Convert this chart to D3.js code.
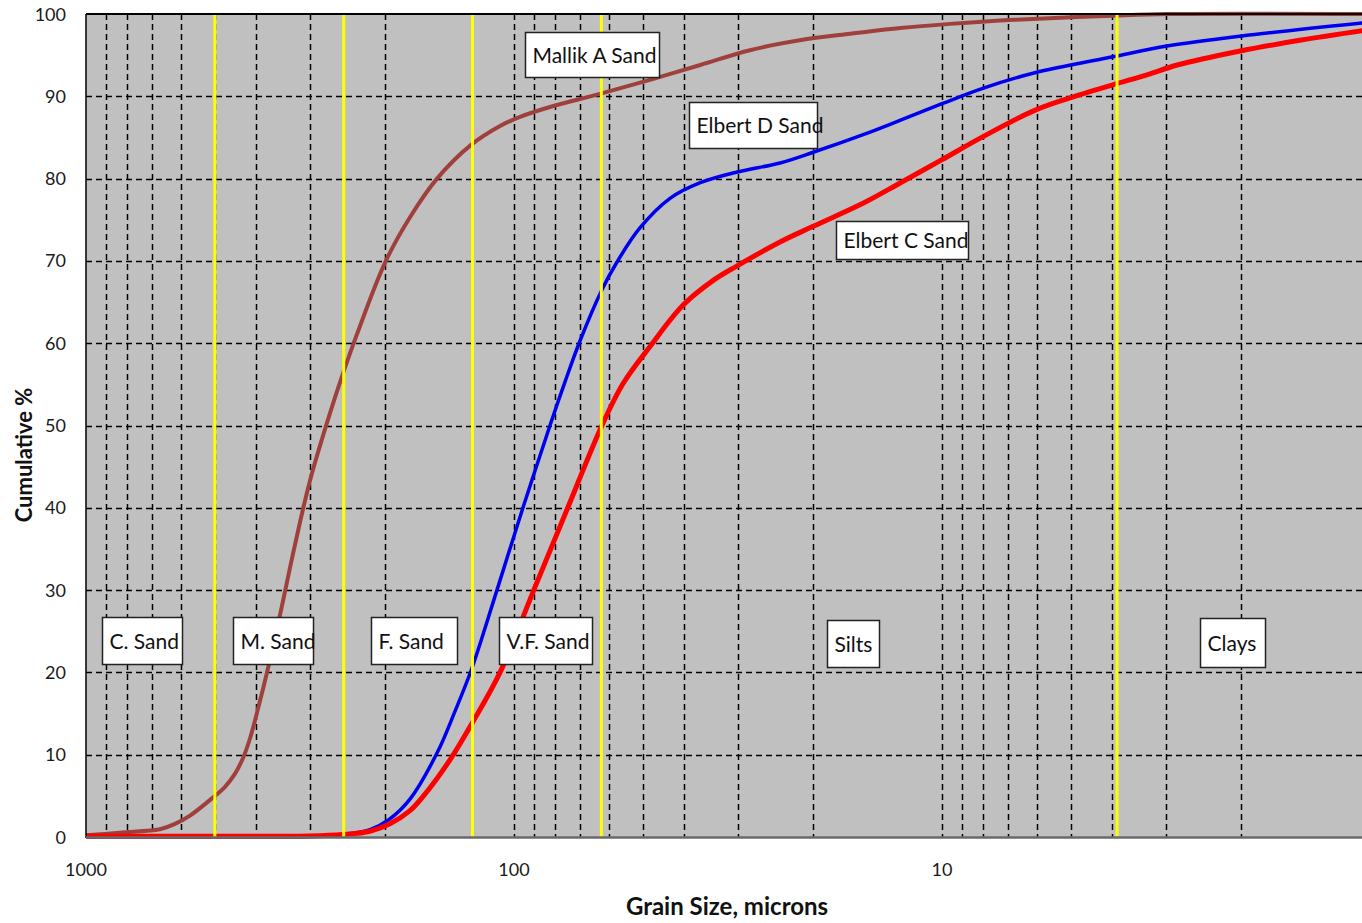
<!DOCTYPE html>
<html>
<head>
<meta charset="utf-8">
<script src="https://cdn.jsdelivr.net/npm/d3@7"></script>
<style>
  body { margin: 0; background: #fff; }
  svg { display: block; font-family: Lato, "Open Sans", sans-serif; }
</style>
</head>
<body>
<svg id="chart" width="1362" height="923"></svg>
<script>
// Cumulative grain-size curves, [size in microns, cumulative %].
const mallikA = [
    [1000, 0.2], [846, 0.5], [708.5, 0.8], [671.6, 0.95], [619.5, 1.6], [571.5, 2.6],
    [505, 4.8], [473.4, 6.1], [448.5, 7.7], [429.6, 9.6], [413.7, 12.0], [396.3, 15.6],
    [377.6, 20], [352.1, 27], [324.9, 35.5], [299.7, 43.3], [269.1, 51.5], [251, 56.3],
    [232.7, 61.1], [200.1, 69.8], [175, 75.3], [151.3, 80], [126, 84.1], [107.8, 86.4],
    [96.8, 87.5], [82.4, 88.7], [63, 90.3], [48.1, 92], [36.7, 93.8], [28.1, 95.6],
    [21.5, 96.8], [16.4, 97.6], [12.5, 98.3], [9.57, 98.8], [7.32, 99.2], [6.13, 99.4],
    [3.99, 99.8], [2.98, 100], [1, 100],
];
const elbertD = [
    [1000, 0], [400, 0], [300, 0.05], [251, 0.3], [217, 0.9], [195, 2.2],
    [175, 4.6], [151.3, 10.2], [137.3, 15.3], [125.4, 20.5], [109.6, 30], [95.3, 40],
    [82.4, 50], [76, 55.3], [70.1, 60.3], [62.3, 66.5], [57.4, 69.9], [50.8, 74],
    [43.2, 77.6], [36.7, 79.5], [30.1, 80.8], [23.9, 81.9], [20, 83.2], [15, 85.5],
    [12.5, 87.1], [10, 89.1], [8, 91], [6.13, 92.8], [3.99, 94.8], [2.98, 96.1],
    [2.01, 97.3], [1, 99],
];
const elbertC = [
    [1000, 0.1], [400, 0.1], [300, 0.12], [251, 0.3], [217, 0.7], [195, 1.6],
    [175, 3.2], [163.2, 4.9], [141, 9.4], [125.4, 13.8], [107.8, 20], [89.9, 30],
    [74.9, 40], [62.3, 50], [55.6, 55.1], [48.1, 59.6], [40.3, 64.6], [34.3, 67.6],
    [30.1, 69.4], [23.9, 72.3], [20, 74.2], [15.3, 77], [12.5, 79.5], [10, 82.3],
    [8.02, 85.1], [6.13, 88.2], [5.1, 89.7], [3.99, 91.4], [3.32, 92.6], [2.82, 93.8],
    [2.01, 95.5], [1.46, 96.8], [1, 98.1],
];

// Wentworth class boundaries, microns.
const classEdges = [500, 250, 125, 62.5, 3.9];
const yTicks = [0, 10, 20, 30, 40, 50, 60, 70, 80, 90, 100];
const xTickLabels = [1000, 100, 10];

// Text boxes: text plus the [size, %] of the box's top-left corner.
const annotations = [
    { text: "C. Sand", size: 918, pct: 26.7 },
    { text: "M. Sand", size: 453, pct: 26.7 },
    { text: "F. Sand", size: 216, pct: 26.7 },
    { text: "V.F. Sand", size: 108.6, pct: 26.7 },
    { text: "Silts", size: 18.6, pct: 26.4 },
    { text: "Clays", size: 2.5, pct: 26.6 },
    { text: "Mallik A Sand", size: 94.1, pct: 97.8 },
    { text: "Elbert D Sand", size: 39.0, pct: 89.3 },
    { text: "Elbert C Sand", size: 17.7, pct: 74.8 },
];
// Box sizes in px, keyed by text.
const BOX_PX = {
    "C. Sand": [80, 47], "M. Sand": [80, 47], "F. Sand": [86, 47],
    "V.F. Sand": [93, 47], "Silts": [52, 47], "Clays": [65, 49],
    "Mallik A Sand": [134, 45], "Elbert D Sand": [128, 46], "Elbert C Sand": [132, 38],
};

const series = [
    { data: mallikA, color: "#A0403C", width: 4 },
    { data: elbertD, color: "#0000F0", width: 3.5 },
    { data: elbertC, color: "#FF0000", width: 5 },
];

const svg = d3.select("#chart");
const plotLeft = 86, plotTop = 14, plotBottom = 837, plotRight = 1370;

const x = d3.scaleLog().domain([1000, 1]).range([plotLeft, plotRight]);
const y = d3.scaleLinear().domain([0, 100]).range([plotBottom, plotTop]);

// Plot background (extends past the right edge of the picture).
svg.append("rect")
    .attr("x", plotLeft).attr("y", plotTop)
    .attr("width", plotRight - plotLeft).attr("height", plotBottom - plotTop)
    .attr("fill", "#C0C0C0");

// Dashed grid: every 10 % and every log minor tick.
const minor = [];
for (const dec of [100, 10, 1]) {
    for (let k = 9; k >= 1; k--) minor.push(dec * k);
}
const gGrid = svg.append("g")
    .attr("stroke", "#000").attr("stroke-width", 1.5)
    .attr("stroke-dasharray", "6,4").attr("fill", "none");
gGrid.selectAll("line.h")
    .data(yTicks.filter((t) => t > 0 && t < 100))
    .join("line").attr("class", "h")
    .attr("x1", plotLeft).attr("x2", plotRight)
    .attr("y1", (d) => Math.round(y(d)) + 0.5).attr("y2", (d) => Math.round(y(d)) + 0.5);
gGrid.selectAll("line.v")
    .data(minor.filter((d) => d < 1000 && d > 1))
    .join("line").attr("class", "v")
    .attr("y1", plotTop).attr("y2", plotBottom)
    .attr("x1", (d) => Math.round(x(d)) + 0.5).attr("x2", (d) => Math.round(x(d)) + 0.5);

// Curves, smoothed like the spreadsheet's "smoothed line" option.
const line = d3.line()
    .x((d) => x(d[0]))
    .y((d) => y(d[1]))
    .curve(d3.curveCatmullRom.alpha(0.5));
svg.append("g").selectAll("path")
    .data(series)
    .join("path")
    .attr("fill", "none")
    .attr("stroke", (d) => d.color)
    .attr("stroke-width", (d) => d.width)
    .attr("stroke-linejoin", "round")
    .attr("d", (d) => line(d.data));

// Class boundaries in yellow, drawn over the curves.
svg.append("g").selectAll("line")
    .data(classEdges)
    .join("line")
    .attr("x1", (d) => x(d)).attr("x2", (d) => x(d))
    .attr("y1", plotTop).attr("y2", plotBottom)
    .attr("stroke", "#FFFF00").attr("stroke-width", 3);

// Frame: top border, left axis, bottom axis.
svg.append("line")
    .attr("x1", plotLeft).attr("x2", plotRight).attr("y1", plotTop).attr("y2", plotTop)
    .attr("stroke", "#000").attr("stroke-width", 2);
svg.append("line")
    .attr("x1", plotLeft).attr("x2", plotLeft).attr("y1", plotTop).attr("y2", plotBottom + 1)
    .attr("stroke", "#000").attr("stroke-width", 1.5);
svg.append("line")
    .attr("x1", plotLeft).attr("x2", plotRight)
    .attr("y1", plotBottom + 0.5).attr("y2", plotBottom + 0.5)
    .attr("stroke", "#6a6a6a").attr("stroke-width", 2.5);

// Text boxes.
const gBox = svg.append("g").selectAll("g")
    .data(annotations)
    .join("g")
    .attr("transform", (d) => `translate(${Math.round(x(d.size)) + 0.5},${Math.round(y(d.pct)) + 0.5})`);
gBox.append("rect")
    .attr("width", (d) => BOX_PX[d.text][0])
    .attr("height", (d) => BOX_PX[d.text][1])
    .attr("fill", "#fff").attr("stroke", "#222").attr("stroke-width", 1.5);
gBox.append("text")
    .attr("x", 7)
    .attr("y", (d) => BOX_PX[d.text][1] / 2 + 7.5)
    .attr("font-size", 21)
    .attr("fill", "#111")
    .text((d) => d.text);

// Y axis labels.
svg.append("g").selectAll("text")
    .data(yTicks)
    .join("text")
    .attr("x", 66).attr("y", (d) => y(d) + 6.5)
    .attr("text-anchor", "end")
    .attr("font-size", 18).attr("fill", "#1a1a1a")
    .text((d) => d);

// X axis labels.
svg.append("g").selectAll("text")
    .data(xTickLabels)
    .join("text")
    .attr("x", (d) => x(d)).attr("y", 876)
    .attr("text-anchor", "middle")
    .attr("font-size", 18).attr("fill", "#1a1a1a")
    .text((d) => d);

svg.append("text")
    .attr("x", 727).attr("y", 915)
    .attr("text-anchor", "middle")
    .attr("font-size", 24).attr("font-weight", "bold").attr("fill", "#111")
    .text("Grain Size, microns");

svg.append("text")
    .attr("transform", "translate(32,455) rotate(-90)")
    .attr("text-anchor", "middle")
    .attr("font-size", 22).attr("font-weight", "bold").attr("fill", "#111")
    .text("Cumulative %");
</script>
</body>
</html>
